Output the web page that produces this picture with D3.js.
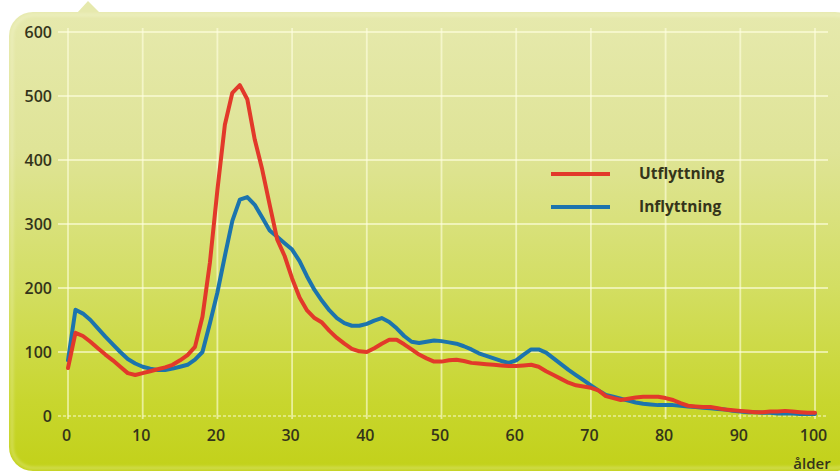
<!DOCTYPE html>
<html>
<head>
<meta charset="utf-8">
<script src="https://cdn.jsdelivr.net/npm/d3@7"></script>
<style>
  html, body { margin: 0; padding: 0; background: #ffffff; }
  svg { display: block; }
  text { font-family: "Open Sans", "Noto Sans", sans-serif; fill: #34341a; }
</style>
</head>
<body>
<svg id="chart" width="840" height="473"></svg>
<script>
// Ålder 0–100
const ages = d3.range(0, 101);

// Utflyttning per ålder
const utflyttning = [
  75, 130, 125, 116, 106, 96, 87, 77, 67, 64,
  67, 70, 73, 76, 80, 87, 95, 108, 155, 240,
  353, 455, 505, 517, 495, 432, 385, 330, 276, 250,
  215, 185, 165, 153, 146, 133, 122, 113, 105, 101,
  100, 106, 113, 119, 119, 112, 104, 96, 90, 85,
  85, 87, 88, 86, 83, 82, 81, 80, 79, 78,
  78, 79, 80, 77, 70, 64, 58, 52, 48, 46,
  44, 40, 31, 28, 25, 27, 29, 30, 30, 30,
  28, 25, 20, 16, 15, 14, 14, 12, 10, 9,
  8, 7, 6, 6, 7, 7, 8, 7, 6, 5,
  5
];

// Inflyttning per ålder
const inflyttning = [
  87, 166, 160, 150, 137, 124, 112, 100, 89, 82,
  77, 74, 72, 72, 74, 77, 80, 88, 100, 145,
  193, 250, 305, 338, 342, 330, 310, 290, 280, 270,
  260, 242, 218, 197, 180, 165, 153, 145, 141, 141,
  144, 149, 153, 147, 137, 125, 116, 114, 116, 118,
  117, 115, 113, 109, 104, 98, 94, 90, 86, 83,
  87, 96, 104, 104, 99, 90, 81, 72, 64, 56,
  48, 40, 33, 30, 27, 24, 21, 19, 18, 17,
  17, 17, 16, 15, 14, 13, 12, 11, 10, 8,
  7, 6, 6, 5, 5, 4, 4, 4, 3, 3,
  3
];

const xTicks = [0, 10, 20, 30, 40, 50, 60, 70, 80, 90, 100];
const yTicks = [0, 100, 200, 300, 400, 500, 600];

const seriesNames = ["Utflyttning", "Inflyttning"];
const seriesColors = ["#e2392a", "#1c74ad"];

const svg = d3.select("#chart");

const x = d3.scaleLinear().domain([0, 100]).range([68, 815]);
const y = d3.scaleLinear().domain([0, 600]).range([416, 32]);

// Background panel with a vertical lime gradient
const defs = svg.append("defs");
const grad = defs.append("linearGradient")
  .attr("id", "panelGrad").attr("x1", 0).attr("y1", 0).attr("x2", 0).attr("y2", 1);
[
  [0, "#e6e9ad"], [0.3, "#dfe497"], [0.6, "#d3de62"], [0.85, "#c8d62e"], [1, "#c2d119"]
].forEach(([o, c]) => grad.append("stop").attr("offset", o).attr("stop-color", c));

const soft = defs.append("filter").attr("id", "soft")
  .attr("x", "-5%").attr("y", "-5%").attr("width", "110%").attr("height", "110%");
soft.append("feGaussianBlur").attr("stdDeviation", 0.6);

const rim = defs.append("filter").attr("id", "rim")
  .attr("x", "-5%").attr("y", "-5%").attr("width", "110%").attr("height", "110%");
rim.append("feGaussianBlur").attr("stdDeviation", 1.5);

svg.append("path")
  .attr("d", "M77,13 L88,1 L100,13 Z")
  .attr("fill", "#e6e9ad");

svg.append("rect")
  .attr("x", 9).attr("y", 12).attr("width", 850).attr("height", 459)
  .attr("rx", 24).attr("ry", 24)
  .attr("fill", "url(#panelGrad)");

svg.append("rect")
  .attr("x", 12).attr("y", 15).attr("width", 845).attr("height", 453)
  .attr("rx", 22).attr("ry", 22)
  .attr("fill", "none")
  .attr("stroke", "rgba(255,255,235,0.3)")
  .attr("stroke-width", 2.5)
  .attr("filter", "url(#rim)");

// Grid
const grid = svg.append("g").attr("filter", "url(#soft)");
grid.selectAll("line.v").data(xTicks).join("line")
  .attr("class", "v")
  .attr("x1", d => x(d)).attr("x2", d => x(d))
  .attr("y1", y(600) - 4).attr("y2", y(0) + 3)
  .attr("stroke", "rgba(255,255,225,0.6)").attr("stroke-width", 1.8);
grid.selectAll("line.h").data(yTicks).join("line")
  .attr("class", "h")
  .attr("x1", 58).attr("x2", 828)
  .attr("y1", d => y(d)).attr("y2", d => y(d))
  .attr("stroke", d => d === 0 ? "rgba(255,255,225,0.45)" : "rgba(255,255,225,0.6)")
  .attr("stroke-dasharray", d => d === 0 ? "3,2" : null)
  .attr("stroke-width", 1.8);

// Axes
const yAxis = svg.append("g")
  .attr("transform", `translate(${x(0)},0)`)
  .call(d3.axisLeft(y).tickValues(yTicks).tickSize(0).tickPadding(16));
const xAxis = svg.append("g")
  .attr("transform", `translate(0,${y(0)})`)
  .call(d3.axisBottom(x).tickValues(xTicks).tickSize(0).tickPadding(14));
[yAxis, xAxis].forEach(g => {
  g.select(".domain").remove();
  g.selectAll("text")
    .attr("font-family", "'Open Sans', sans-serif")
    .attr("font-size", 16)
    .attr("font-weight", 600)
    .attr("fill", "#38381c");
});
xAxis.selectAll("text").attr("dx", -2);

svg.append("text")
  .attr("x", 812).attr("y", 469)
  .attr("text-anchor", "middle")
  .attr("font-size", 15).attr("font-weight", 600)
  .attr("fill", "#38381c")
  .text("ålder");

// Lines
const line = d3.line().curve(d3.curveLinear);
const seriesData = [utflyttning, inflyttning];
const drawOrder = [1, 0];
svg.append("g").selectAll("path")
  .data(drawOrder)
  .join("path")
  .attr("d", i => line(ages.map((a, k) => [x(a), y(seriesData[i][k])])))
  .attr("fill", "none")
  .attr("stroke", i => seriesColors[i])
  .attr("stroke-width", 4)
  .attr("stroke-linejoin", "round")
  .attr("stroke-linecap", "round");

// Legend
const legend = svg.append("g");
const legY = [174, 207];
seriesNames.forEach((name, i) => {
  legend.append("line")
    .attr("x1", 551).attr("x2", 610)
    .attr("y1", legY[i]).attr("y2", legY[i])
    .attr("stroke", seriesColors[i]).attr("stroke-width", 4);
  legend.append("text")
    .attr("x", 639).attr("y", legY[i] + 5)
    .attr("font-size", 15.5).attr("font-weight", 700)
    .attr("fill", "#2c2c14")
    .text(name);
});
</script>
</body>
</html>
